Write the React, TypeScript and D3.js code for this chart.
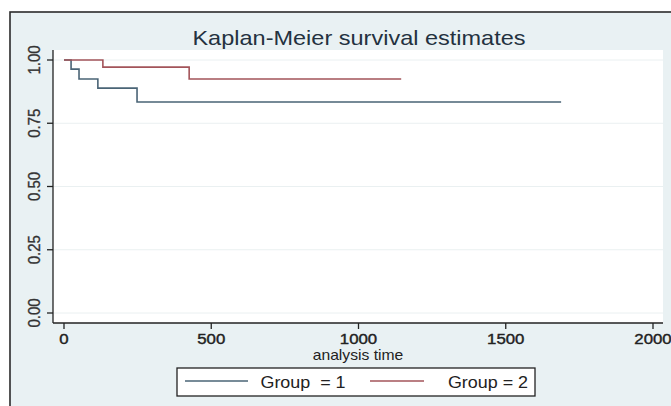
import { useEffect, useRef } from "react";
import * as d3 from "d3";

// survival steps
const group1Times = [0, 24, 51, 115, 248];
const group1Surv = [1, 0.964, 0.925, 0.889, 0.834];
const group1End = 1688;

const group2Times = [0, 132, 425];
const group2Surv = [1, 0.972, 0.925];
const group2End = 1145;

const xTicks = [0, 500, 1000, 1500, 2000];
const yTicks = [0, 0.25, 0.5, 0.75, 1];
const yTickLabels = ["0.00", "0.25", "0.50", "0.75", "1.00"];

const groups = [
  { label: "Group  = 1", times: group1Times, surv: group1Surv, end: group1End, color: "#4a6476" },
  { label: "Group = 2", times: group2Times, surv: group2Surv, end: group2End, color: "#a3545a" },
];

const FONT = "'Liberation Sans', Arial, sans-serif";
const STRETCH = 1.12;

function App() {
  const ref = useRef<SVGSVGElement | null>(null);

  useEffect(() => {
    const width = 671;
    const height = 406;
    const svg = d3.select(ref.current);
    svg.selectAll("*").remove();

    const x = d3.scaleLinear().domain([0, 2000]).range([64, 653]);
    const y = d3.scaleLinear().domain([0, 1]).range([313, 60]);
    const plot = { left: 53, right: 663, top: 50, bottom: 323 };

    svg.append("rect").attr("width", width).attr("height", height).attr("fill", "#fff");

    // graph region
    svg
      .append("rect")
      .attr("x", 10)
      .attr("y", 12)
      .attr("width", width)
      .attr("height", height)
      .attr("fill", "#e9f1f3")
      .attr("stroke", "#2b2b2b")
      .attr("stroke-width", 1.6);

    // plot region
    svg
      .append("rect")
      .attr("x", plot.left)
      .attr("y", plot.top)
      .attr("width", plot.right - plot.left)
      .attr("height", plot.bottom - plot.top)
      .attr("fill", "#fff");

    const text = (
      s: string,
      tx: number,
      ty: number,
      size: number,
      color: string,
      rotate = false,
      heavy = 0
    ) =>
      svg
        .append("text")
        .attr(
          "transform",
          `translate(${tx},${ty}) scale(${STRETCH},1)${rotate ? " rotate(-90)" : ""}`
        )
        .attr("text-anchor", "middle")
        .attr("font-family", FONT)
        .attr("font-size", size)
        .attr("fill", color)
        .attr("stroke", heavy ? color : "none")
        .attr("stroke-width", heavy)
        .style("white-space", "pre")
        .text(s);

    // title
    text("Kaplan-Meier survival estimates", 359, 45, 21, "#24323f");

    // gridlines
    svg
      .selectAll("line.grid")
      .data(yTicks)
      .enter()
      .append("line")
      .attr("x1", plot.left)
      .attr("x2", plot.right)
      .attr("y1", (d) => y(d))
      .attr("y2", (d) => y(d))
      .attr("stroke", "#eaf0f1")
      .attr("stroke-width", 1);

    // y axis
    svg
      .append("line")
      .attr("x1", plot.left)
      .attr("x2", plot.left)
      .attr("y1", plot.top)
      .attr("y2", plot.bottom)
      .attr("stroke", "#222")
      .attr("stroke-width", 1.3);
    yTicks.forEach((t, i) => {
      svg
        .append("line")
        .attr("x1", plot.left - 6)
        .attr("x2", plot.left)
        .attr("y1", y(t))
        .attr("y2", y(t))
        .attr("stroke", "#222")
        .attr("stroke-width", 1.3);
      text(yTickLabels[i], 40, y(t), 15, "#333", true, 0.3);
    });

    // x axis
    svg
      .append("line")
      .attr("x1", plot.left)
      .attr("x2", plot.right)
      .attr("y1", plot.bottom)
      .attr("y2", plot.bottom)
      .attr("stroke", "#222")
      .attr("stroke-width", 1.3);
    xTicks.forEach((t) => {
      svg
        .append("line")
        .attr("x1", x(t))
        .attr("x2", x(t))
        .attr("y1", plot.bottom)
        .attr("y2", plot.bottom + 6)
        .attr("stroke", "#222")
        .attr("stroke-width", 1.3);
      text(String(t), x(t), 344, 15, "#222", false, 0.4);
    });
    text("analysis time", 358, 360, 14, "#222");

    // survival step curves
    const line = d3
      .line<[number, number]>()
      .x((d) => x(d[0]))
      .y((d) => y(d[1]))
      .curve(d3.curveStepAfter);

    groups.forEach((g) => {
      const pts: [number, number][] = g.times.map((t, i) => [t, g.surv[i]]);
      pts.push([g.end, g.surv[g.surv.length - 1]]);
      svg
        .append("path")
        .attr("d", line(pts))
        .attr("fill", "none")
        .attr("stroke", g.color)
        .attr("stroke-width", 1.6);
    });

    // legend
    const lg = { x: 177, y: 368, w: 358, h: 28 };
    svg
      .append("rect")
      .attr("x", lg.x)
      .attr("y", lg.y)
      .attr("width", lg.w)
      .attr("height", lg.h)
      .attr("fill", "#fff")
      .attr("stroke", "#222")
      .attr("stroke-width", 1.3);
    const legendSpots = [
      { x1: 185, x2: 248, tx: 303 },
      { x1: 370, x2: 424, tx: 488 },
    ];
    groups.forEach((g, i) => {
      const s = legendSpots[i];
      svg
        .append("line")
        .attr("x1", s.x1)
        .attr("x2", s.x2)
        .attr("y1", lg.y + 13)
        .attr("y2", lg.y + 13)
        .attr("stroke", g.color)
        .attr("stroke-width", 1.4);
      text(g.label, s.tx, lg.y + 20, 16, "#222");
    });
  }, []);

  return (
    <svg
      ref={ref}
      width={671}
      height={406}
      style={{ position: "absolute", left: 0, top: 0, display: "block" }}
    />
  );
}

export default App;
